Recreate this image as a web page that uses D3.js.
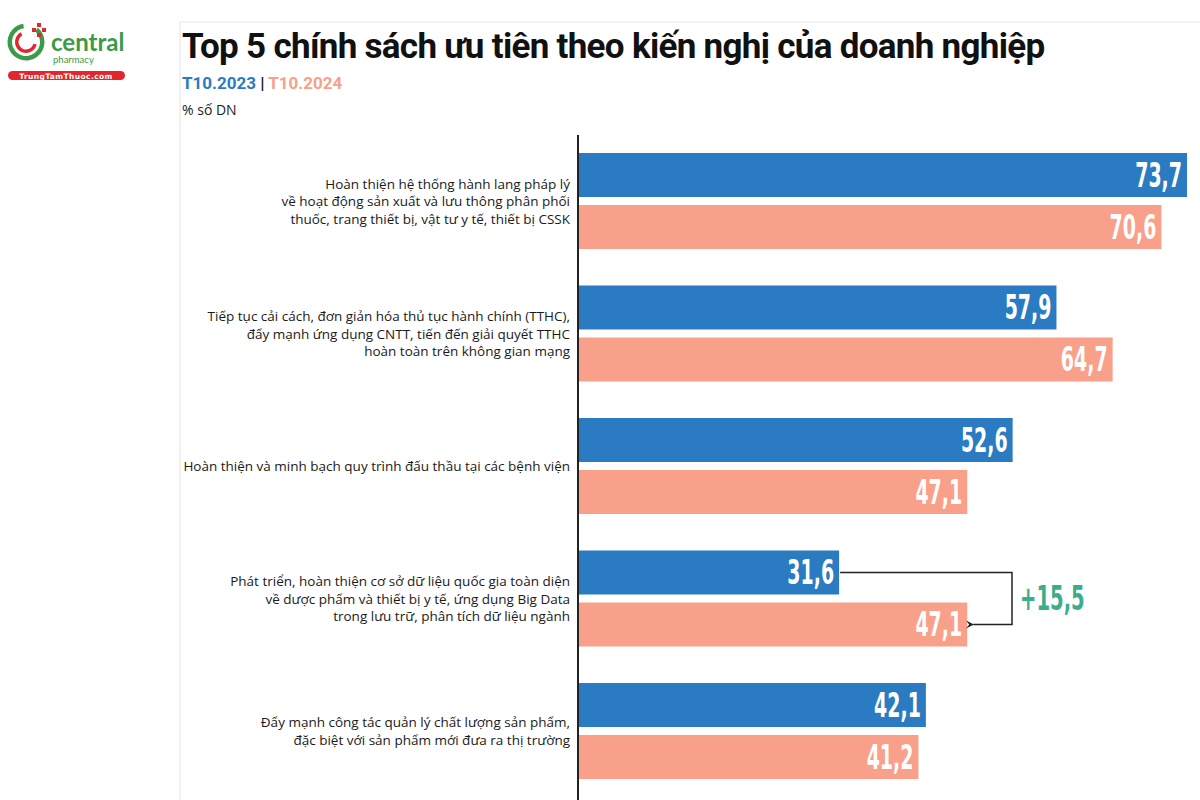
<!DOCTYPE html>
<html>
<head>
<meta charset="utf-8">
<script src="https://cdn.jsdelivr.net/npm/d3@7"></script>
<style>
  body { margin: 0; background: #fff; }
  svg { display: block; }
</style>
</head>
<body>
<svg id="viz" width="1200" height="800"></svg>
<script>
var categories = [
    ["Hoàn thiện hệ thống hành lang pháp lý", "về hoạt động sản xuất và lưu thông phân phối", "thuốc, trang thiết bị, vật tư y tế, thiết bị CSSK"],
    ["Tiếp tục cải cách, đơn giản hóa thủ tục hành chính (TTHC),", "đẩy mạnh ứng dụng CNTT, tiến đến giải quyết TTHC", "hoàn toàn trên không gian mạng"],
    ["Hoàn thiện và minh bạch quy trình đấu thầu tại các bệnh viện"],
    ["Phát triển, hoàn thiện cơ sở dữ liệu quốc gia toàn diện", "về dược phẩm và thiết bị y tế, ứng dụng Big Data", "trong lưu trữ, phân tích dữ liệu ngành"],
    ["Đẩy mạnh công tác quản lý chất lượng sản phẩm,", "đặc biệt với sản phẩm mới đưa ra thị trường"]
];
var series = ["T10.2023", "T10.2024"];
var values2023 = [73.7, 57.9, 52.6, 31.6, 42.1];
var values2024 = [70.6, 64.7, 47.1, 47.1, 41.2];
var colors = ["#2a7bc1", "#f9a08a"];
var green = "#3aae8c";

var svg = d3.select("#viz");
var fmt = function(v) { return d3.format(".1f")(v).replace(".", ","); };

// condensed number text (squeezed horizontally around its anchor)
function squeeze(sel, ax, k) {
    sel.attr("transform", "translate(" + ax + ",0) scale(" + k + ",1) translate(" + (-ax) + ",0)");
}

// panel frame
svg.append("line").attr("x1", 180).attr("x2", 180).attr("y1", 22).attr("y2", 800)
    .style("stroke", "#e2e2e2");
svg.append("line").attr("x1", 180).attr("x2", 1200).attr("y1", 22).attr("y2", 22)
    .style("stroke", "#e8e8e8");

// logo
var logo = svg.append("g");
logo.append("path")
    .attr("d", d3.arc()({innerRadius: 14, outerRadius: 18.5, startAngle: 0.7, endAngle: 2 * Math.PI - 0.15}))
    .attr("transform", "translate(26,42)").style("fill", "#3a9b48");
logo.append("path")
    .attr("d", d3.arc()({innerRadius: 7.5, outerRadius: 11, startAngle: 1.8, endAngle: 2 * Math.PI - 0.5}))
    .attr("transform", "translate(26,42)").style("fill", "#e3262d");
[[39, 25], [44, 30], [39, 35], [34, 30]].forEach(function(p) {
    logo.append("rect").attr("x", p[0] - 2).attr("y", p[1] - 2).attr("width", 4).attr("height", 4)
        .style("fill", "#e3262d");
});
logo.append("text").attr("x", 51).attr("y", 51).text("central")
    .style("font-family", "Lato, sans-serif").style("font-weight", "bold")
    .style("font-size", "24px").style("fill", "#3a9b48");
logo.append("text").attr("x", 53).attr("y", 63).text("pharmacy")
    .style("font-family", "Lato, sans-serif").style("font-size", "9.5px").style("fill", "#3a9b48");
logo.append("rect").attr("x", 8).attr("y", 71).attr("width", 117).attr("height", 9).attr("rx", 4.5)
    .style("fill", "#e3262d");
logo.append("text").attr("x", 66).attr("y", 78.5).attr("text-anchor", "middle").text("TrungTamThuoc.com")
    .style("font-family", "DejaVu Sans, sans-serif").style("font-weight", "bold")
    .style("font-size", "7.5px").style("fill", "#fff").style("letter-spacing", "0.4px");

// titles
svg.append("text").attr("x", 182).attr("y", 58)
    .text("Top 5 chính sách ưu tiên theo kiến nghị của doanh nghiệp")
    .style("font-family", "Roboto, sans-serif").style("font-weight", "bold")
    .style("font-size", "35px").style("fill", "#111").style("letter-spacing", "-0.7px");

var sub = svg.append("text").attr("x", 182).attr("y", 89)
    .style("font-family", "Roboto, sans-serif").style("font-weight", "bold").style("font-size", "17px");
sub.append("tspan").text(series[0]).style("fill", colors[0]);
sub.append("tspan").text(" | ").style("fill", "#222");
sub.append("tspan").text(series[1]).style("fill", colors[1]);

svg.append("text").attr("x", 182).attr("y", 115).text("% số DN")
    .style("font-family", "Open Sans, sans-serif").style("font-size", "14px").style("fill", "#222");

// scales
var x = d3.scaleLinear().domain([0, 73.7]).range([578, 1187]);
var y0 = d3.scaleBand().domain(d3.range(categories.length)).range([140, 802.5]);
var y1 = d3.scaleBand().domain([0, 1]).range([13, 109]).paddingInner(0.154).paddingOuter(0);

var groups = svg.selectAll("g.grp")
    .data(categories.map(function(c, i) { return {label: c, vals: [values2023[i], values2024[i]], i: i}; }))
    .enter().append("g").classed("grp", true)
    .attr("transform", function(d) { return "translate(0," + y0(d.i) + ")"; });

groups.selectAll("rect")
    .data(function(d) { return d.vals; })
    .enter().append("rect")
    .attr("x", x(0))
    .attr("y", function(d, j) { return y1(j); })
    .attr("width", function(d) { return x(d) - x(0); })
    .attr("height", y1.bandwidth())
    .style("fill", function(d, j) { return colors[j]; });

groups.selectAll("text.val")
    .data(function(d) { return d.vals; })
    .enter().append("text").classed("val", true)
    .attr("x", function(d) { return x(d) - 5; })
    .attr("y", function(d, j) { return y1(j) + y1.bandwidth() / 2 + 12; })
    .attr("text-anchor", "end")
    .text(fmt)
    .style("font-family", "DejaVu Sans Condensed, sans-serif").style("font-weight", "bold")
    .style("font-size", "34px").style("fill", "#fff")
    .each(function(d) { squeeze(d3.select(this), x(d) - 5, 0.62); });

groups.each(function(d) {
    var g = d3.select(this);
    var n = d.label.length;
    var mid = y1(0) + (y1(1) + y1.bandwidth() - y1(0)) / 2;
    var lh = 17.5;
    var t = g.append("text").attr("text-anchor", "end")
        .style("font-family", "Open Sans, sans-serif").style("font-size", "13.5px").style("fill", "#1a1a1a");
    d.label.forEach(function(line, k) {
        t.append("tspan").attr("x", 570).attr("y", mid + (k - (n - 1) / 2) * lh + 5).text(line);
    });
});

// axis line
svg.append("line").attr("x1", x(0)).attr("x2", x(0)).attr("y1", 135).attr("y2", 800)
    .style("stroke", "#222").style("stroke-width", 2);

// change annotation (group 4)
var gi = 3;
var yA = y0(gi) + y1(0) + y1.bandwidth() / 2;
var yB = y0(gi) + y1(1) + y1.bandwidth() / 2;
var xr = 1012;
svg.append("defs").append("marker").attr("id", "arr").attr("viewBox", "0 0 10 10")
    .attr("refX", 1).attr("refY", 5).attr("markerWidth", 8).attr("markerHeight", 8)
    .attr("markerUnits", "userSpaceOnUse").attr("orient", "auto")
    .append("path").attr("d", "M10,0 L0,5 L10,10 L6,5 Z").style("fill", "#222");
svg.append("path")
    .attr("d", "M" + (x(values2023[gi]) + 1) + "," + yA + " H" + xr + " V" + yB + " H" + (x(values2024[gi]) + 6))
    .style("fill", "none").style("stroke", "#222").style("stroke-width", 1.5)
    .attr("marker-end", "url(#arr)");
var dtx = 1020;
svg.append("text").attr("x", dtx).attr("y", (yA + yB) / 2 + 12)
    .text("+" + fmt(values2024[gi] - values2023[gi]))
    .style("font-family", "DejaVu Sans Condensed, sans-serif").style("font-weight", "bold")
    .style("font-size", "34px").style("fill", green)
    .call(squeeze, dtx, 0.64);
</script>
</body>
</html>
